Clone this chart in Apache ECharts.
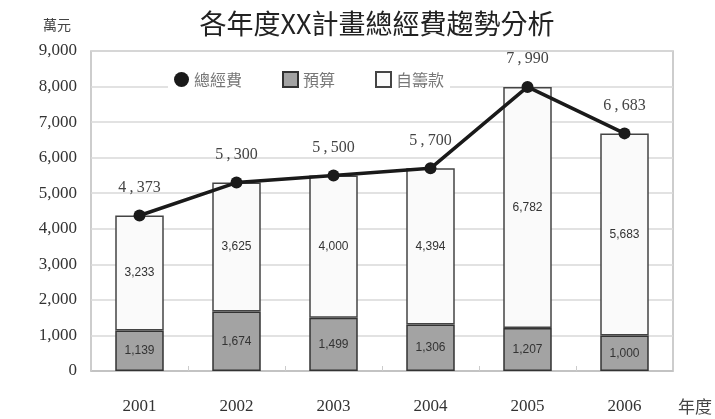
<!DOCTYPE html>
<html>
<head>
<meta charset="utf-8">
<script src="https://cdn.jsdelivr.net/npm/echarts@6/dist/echarts.min.js"></script>
<style>
  html, body { margin: 0; padding: 0; background: #fff; }
  #chart { width: 715px; height: 419px; }
</style>
</head>
<body>
<div id="chart"></div>
<script>
// 年度類別與各項經費（萬元）
var years = ['2001', '2002', '2003', '2004', '2005', '2006'];
var budget = [1139, 1674, 1499, 1306, 1207, 1000];      // 預算
var selfFunded = [3233, 3625, 4000, 4394, 6782, 5683];  // 自籌款
var totals = [4373, 5300, 5500, 5700, 7990, 6683];      // 總經費
var yTicks = [0, 1000, 2000, 3000, 4000, 5000, 6000, 7000, 8000, 9000];

var serif = '"Liberation Serif", "DejaVu Serif", serif';
var cjk = '"Noto Sans CJK TC", "Noto Sans CJK SC", sans-serif';

function fmt(v) { return String(v).replace(/\B(?=(\d{3})+(?!\d))/g, ','); }

var chart = echarts.init(document.getElementById('chart'));
chart.setOption({
  backgroundColor: '#ffffff',
  animation: false,
  title: [{
    text: '各年度XX計畫總經費趨勢分析',
    left: 372, top: 5, textAlign: 'center',
    textStyle: { fontFamily: cjk, fontSize: 27, fontWeight: 'normal', color: '#222' }
  }, {
    text: '萬元',
    left: 52, top: 13, textAlign: 'center',
    textStyle: { fontFamily: cjk, fontSize: 14, fontWeight: 'normal', color: '#444' }
  }, {
    text: '年度',
    left: 690, top: 393, textAlign: 'center',
    textStyle: { fontFamily: cjk, fontSize: 17, fontWeight: 'normal', color: '#444' }
  }],
  legend: {
    top: 69, left: 168,
    itemGap: 40,
    itemWidth: 15, itemHeight: 15,
    backgroundColor: '#ffffff',
    padding: [2, 6],
    textStyle: { fontFamily: cjk, fontSize: 16, color: '#777' },
    data: [
      { name: '總經費', icon: 'circle' },
      { name: '預算', icon: 'rect' },
      { name: '自籌款', icon: 'rect' }
    ]
  },
  grid: { left: 91, right: 42, top: 51, bottom: 48, show: true, borderColor: '#bdbdbd', borderWidth: 1.5 },
  xAxis: {
    type: 'category',
    data: years,
    axisLine: { show: true, lineStyle: { color: '#bdbdbd', width: 1.5 } },
    axisTick: { show: true, inside: true, length: 5, lineStyle: { color: '#ccc' } },
    axisLabel: { fontFamily: serif, fontSize: 17, color: '#333', margin: 27 }
  },
  yAxis: {
    type: 'value',
    min: yTicks[0], max: yTicks[yTicks.length - 1], interval: 1000,
    axisLine: { show: false },
    axisTick: { show: false },
    splitLine: { lineStyle: { color: '#d9d9d9', width: 1.5 } },
    axisLabel: {
      fontFamily: serif, fontSize: 17, color: '#333', margin: 14,
      formatter: function (v) { return fmt(v); }
    }
  },
  series: [{
    name: '預算',
    type: 'bar',
    stack: 'fund',
    barWidth: '50%',
    data: budget,
    itemStyle: { color: '#a3a3a3', borderColor: '#333', borderWidth: 1.5 },
    label: { show: true, position: 'inside', fontFamily: 'Arial, "Liberation Sans", sans-serif', fontSize: 12, color: '#333', formatter: function (p) { return fmt(p.value); } }
  }, {
    name: '自籌款',
    type: 'bar',
    stack: 'fund',
    data: selfFunded,
    itemStyle: { color: '#fafafa', borderColor: '#444', borderWidth: 1.5 },
    label: { show: true, position: 'inside', fontFamily: 'Arial, "Liberation Sans", sans-serif', fontSize: 12, color: '#333', formatter: function (p) { return fmt(p.value); } }
  }, {
    name: '總經費',
    type: 'line',
    data: totals,
    symbol: 'circle',
    symbolSize: 12,
    lineStyle: { color: '#1a1a1a', width: 3.5 },
    itemStyle: { color: '#1a1a1a' },
    z: 5,
    label: {
      show: true, position: 'top', distance: 14,
      fontFamily: serif, fontSize: 16, color: '#444',
      formatter: function (p) { return fmt(p.value).replace(',', '\u2009,\u2009'); }
    }
  }]
});
</script>
</body>
</html>
